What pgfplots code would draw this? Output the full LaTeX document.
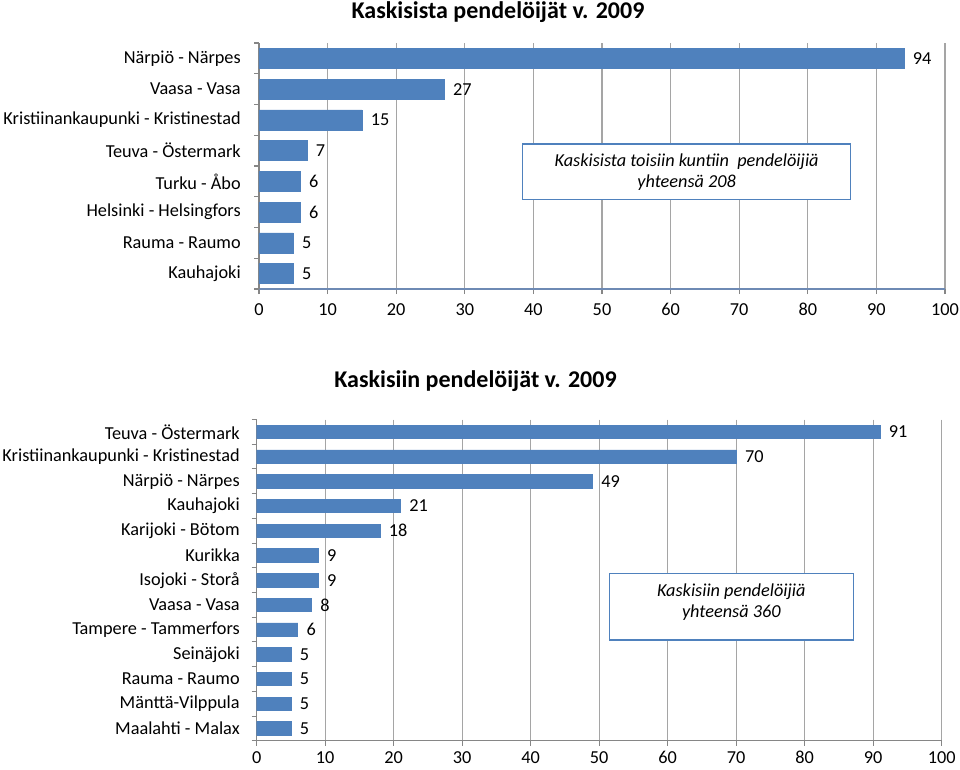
\documentclass[border=0pt]{standalone}
\usepackage{fontspec}
\setmainfont{Carlito}
\usepackage{pgfplots}
\pgfplotsset{compat=1.18}
\definecolor{barblue}{RGB}{79,129,189}
\definecolor{gridgray}{RGB}{165,165,165}
\definecolor{axgray}{RGB}{134,134,134}
\definecolor{axblue}{RGB}{110,138,180}
\definecolor{boxblue}{RGB}{79,129,189}
\pgfplotsset{
  mybars/.style={
    scale only axis, anchor=south west,
    xbar, y dir=reverse,
    xmin=0, xmax=100,
    xtick={0,10,...,100},
    axis x line*=bottom, axis y line*=left,
    xmajorgrids, grid style={gridgray, line width=0.9pt},
    tick align=outside, major tick length=3.75pt,
    tick style={axgray, line width=0.8pt},
    y tick label as interval,
    /pgf/number format/assume math mode=true,
    xticklabel style={font=\fontsize{13.7}{15}\selectfont, inner sep=0pt, text height=8.7pt, text depth=0pt, yshift=-7.3pt},
    yticklabel style={font=\fontsize{13.7}{15}\selectfont, inner sep=0pt},
    nodes near coords,
    nodes near coords style={font=\fontsize{13.7}{15}\selectfont, anchor=west, inner sep=0pt, xshift=6.5pt, black},
    point meta=x,
  }
}
\begin{document}
\begin{tikzpicture}
\useasboundingbox (0,0) rectangle (720pt,576.75pt);
\begin{axis}[mybars,
  at={(194.25pt,360pt)}, width=514.5pt, height=184.5pt,
  bar width=0.65,
  ymin=-0.5, ymax=7.5,
  ytick={-0.5,0.5,...,7.5},
  yticklabels={Närpiö - Närpes, Vaasa - Vasa, Kristiinankaupunki - Kristinestad, Teuva - Östermark, Turku - Åbo, Helsinki - Helsingfors, Rauma - Raumo, Kauhajoki},
  yticklabel style={xshift=-9.75pt},
  x axis line style={axblue, line width=0.9pt},
  y axis line style={axgray, line width=0.9pt},
]
\addplot[fill=barblue, draw=barblue] coordinates {(94,0) (27,1) (15,2) (7,3) (6,4) (6,5) (5,6) (5,7)};
\end{axis}
\begin{axis}[mybars,
  at={(192.5pt,21.2pt)}, width=513.75pt, height=240.9pt,
  bar width=0.54,
  ymin=-0.5, ymax=12.5,
  ytick={-0.5,0.5,...,12.5},
  yticklabels={Teuva - Östermark, Kristiinankaupunki - Kristinestad, Närpiö - Närpes, Kauhajoki, Karijoki - Bötom, Kurikka, Isojoki - Storå, Vaasa - Vasa, Tampere - Tammerfors, Seinäjoki, Rauma - Raumo, Mänttä-Vilppula, Maalahti - Malax},
  yticklabel style={xshift=-8.75pt},
  xticklabel style={yshift=2.6pt},
  axis line style={axgray, line width=0.9pt},
]
\addplot[fill=barblue, draw=barblue] coordinates {(91,0) (70,1) (49,2) (21,3) (18,4) (9,5) (9,6) (8,7) (6,8) (5,9) (5,10) (5,11) (5,12)};
\end{axis}
\node[font=\bfseries\fontsize{18}{20}\selectfont] at (373.5pt,568pt) {Kaskisista pendelöijät v. 2009};
\node[font=\bfseries\fontsize{18}{20}\selectfont] at (356.6pt,291pt) {Kaskisiin pendelöijät v. 2009};
\draw[boxblue, line width=0.9pt, fill=white] (392pt,427.3pt) rectangle (638pt,468.75pt);
\node[font=\itshape\fontsize{13.7}{15.75}\selectfont, align=center] at (515pt,448pt) {Kaskisista toisiin kuntiin\ \ pendelöijiä\\yhteensä 208};
\draw[boxblue, line width=0.9pt, fill=white] (457pt,96.75pt) rectangle (640pt,146.8pt);
\node[font=\itshape\fontsize{13.7}{15.75}\selectfont, align=center] at (548.5pt,125pt) {Kaskisiin pendelöijiä\\yhteensä 360};
\end{tikzpicture}
\end{document}
